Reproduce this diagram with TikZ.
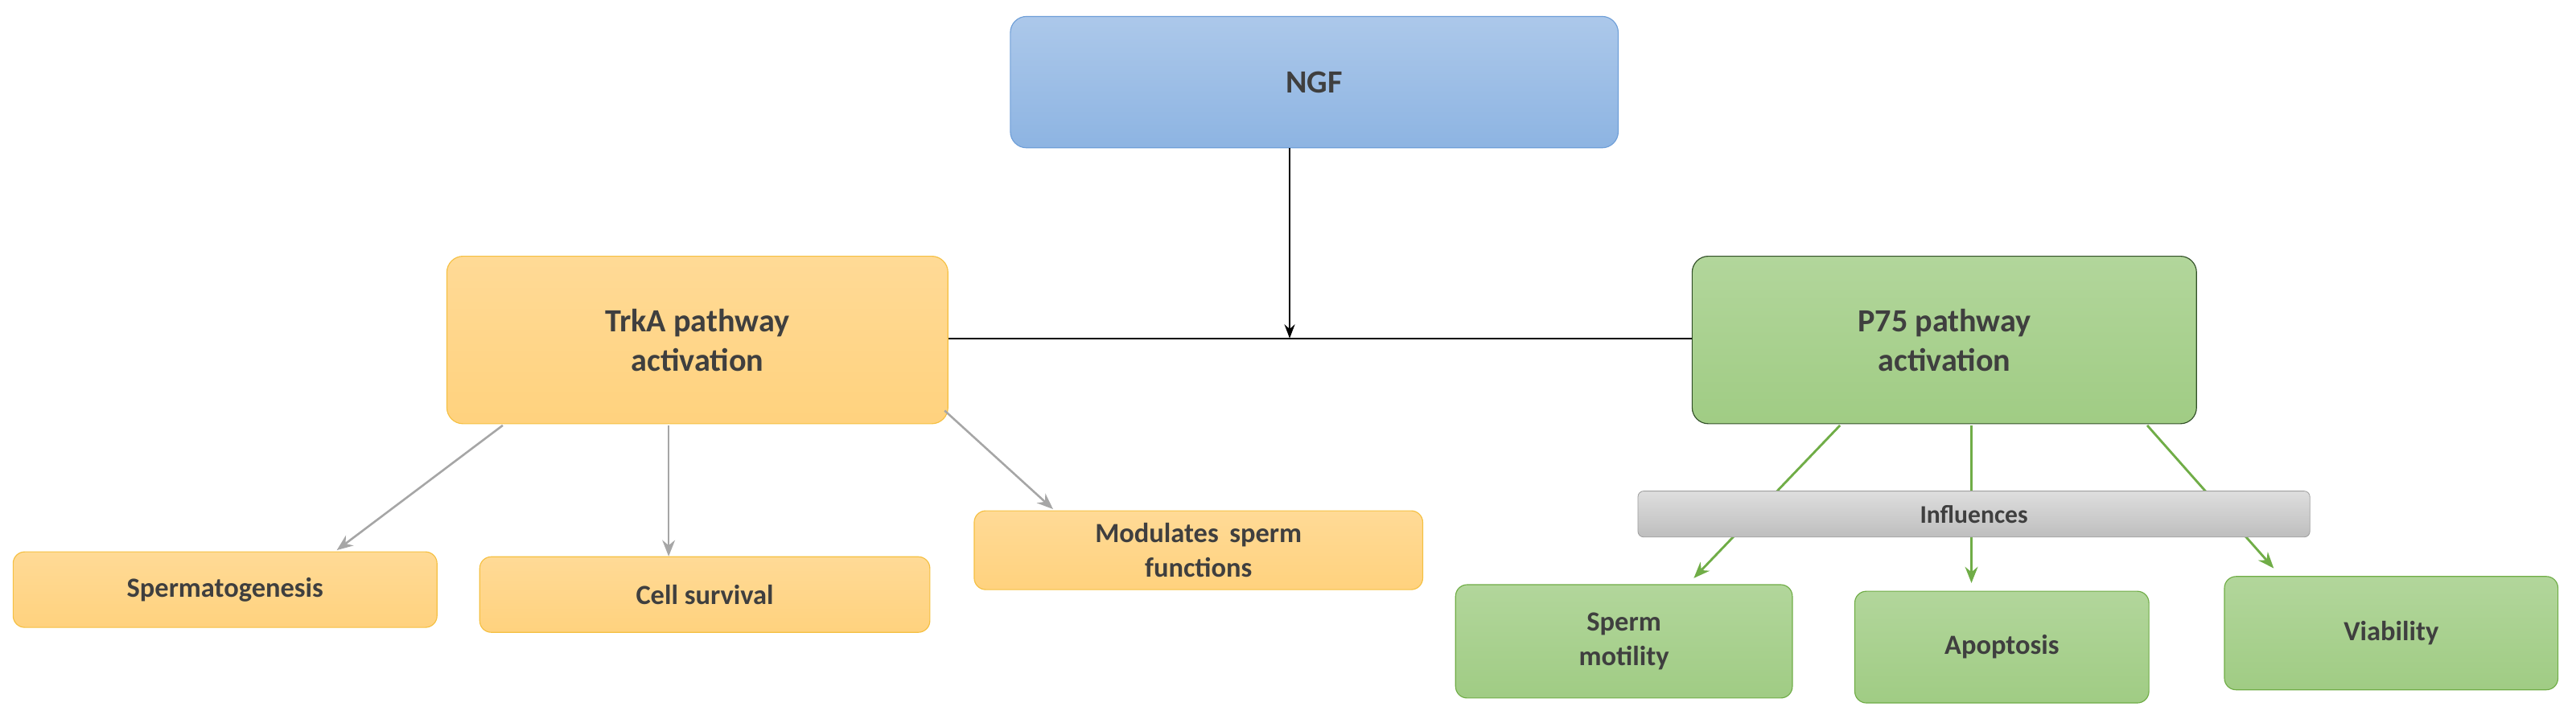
\documentclass[tikz,border=0pt]{standalone}
\usepackage{fontspec}
\usetikzlibrary{arrows.meta}
\setmainfont{Carlito}
\begin{document}
\begin{tikzpicture}[x=0.5mm,y=-0.5mm,
  box/.style={draw,rounded corners=14pt,line width=0.8pt,text=txt,font=\bfseries\fontsize{28}{34}\selectfont,align=center,inner sep=0pt},
  obox/.style={box,draw=oline,top color=org1,bottom color=org2},
  gbox/.style={box,draw=gline,top color=grn1,bottom color=grn2},
  small/.style={font=\bfseries\fontsize{24}{30}\selectfont,rounded corners=10pt},
  garr/.style={draw=garrow,line width=1.8pt,-{Stealth[length=14pt,width=11pt]}},
  grarr/.style={draw=grnarr,line width=2pt,-{Stealth[length=14pt,width=11pt]}}]
\definecolor{txt}{HTML}{3F3F3F}
\definecolor{org1}{HTML}{FFDA96}
\definecolor{org2}{HTML}{FFD27E}
\definecolor{oline}{HTML}{F5C042}
\definecolor{grn1}{HTML}{B2D69B}
\definecolor{grn2}{HTML}{A0CC84}
\definecolor{gline}{HTML}{70AD47}
\definecolor{garrow}{HTML}{A6A6A6}
\definecolor{grnarr}{HTML}{70AD47}
\useasboundingbox (0,0) rectangle (1568,437.7);
% NGF
\node[box,draw={rgb,255:red,111;green,159;blue,216},top color={rgb,255:red,172;green,200;blue,234},bottom color={rgb,255:red,141;green,180;blue,226},minimum width=370*0.5mm,minimum height=80*0.5mm] (ngf) at (800,50) {NGF};
\node[obox,minimum width=305*0.5mm,minimum height=102*0.5mm] (trka) at (424.5,207) {TrkA pathway\\activation};
\node[gbox,draw={rgb,255:red,50;green,80;blue,40},minimum width=307*0.5mm,minimum height=102*0.5mm] (p75) at (1183.5,207) {P75 pathway\\activation};
\coordinate (j) at (785,206);
\draw[line width=1.6pt] (trka.east |- j) -- (p75.west |- j);
\draw[line width=1.8pt,-{Stealth[length=12pt,width=9pt]}] (ngf.south -| j) -- (j);
% left children
\node[obox,small,minimum width=258*0.5mm,minimum height=46*0.5mm] (sp) at (137,359) {Spermatogenesis};
\node[obox,small,minimum width=274*0.5mm,minimum height=46*0.5mm] (cs) at (429,362) {Cell survival};
\node[obox,small,minimum width=273*0.5mm,minimum height=48*0.5mm] (mod) at (729.5,335) {Modulates\, sperm\\functions};
\coordinate (t1) at (306,259); \coordinate (t2) at (407,259); \coordinate (t3) at (575,250);
\draw[garr] (t1) -- (205,335) coordinate (e1);
\draw[garr] (t2) -- (t2 |- cs.north);
\draw[garr] (t3) -- (641,310);
% right children
\coordinate (g1) at (1120,259); \coordinate (g2) at (1200,259); \coordinate (g3) at (1307,259);
\node[gbox,small,minimum width=205*0.5mm,minimum height=69*0.5mm] (sm) at (988.5,390.5) {Sperm\\motility};
\node[gbox,small,minimum width=179*0.5mm,minimum height=68*0.5mm] (ap) at (1218.5,394) {Apoptosis};
\node[gbox,small,minimum width=203*0.5mm,minimum height=69*0.5mm] (vi) at (1455.5,385.5) {Viability};
\draw[grarr] (g1) -- (1031,352);
\draw[grarr] (g2) -- (1200,355);
\draw[grarr] (g3) -- (1384,346);
\node[box,draw={rgb,255:red,160;green,160;blue,160},top color={rgb,255:red,222;green,222;blue,222},bottom color={rgb,255:red,190;green,190;blue,190},rounded corners=5pt,line width=0.6pt,font=\bfseries\fontsize{22}{26}\selectfont,minimum width=409*0.5mm,minimum height=28*0.5mm] (inf) at (1201.5,313) {Influences};
\end{tikzpicture}
\end{document}
